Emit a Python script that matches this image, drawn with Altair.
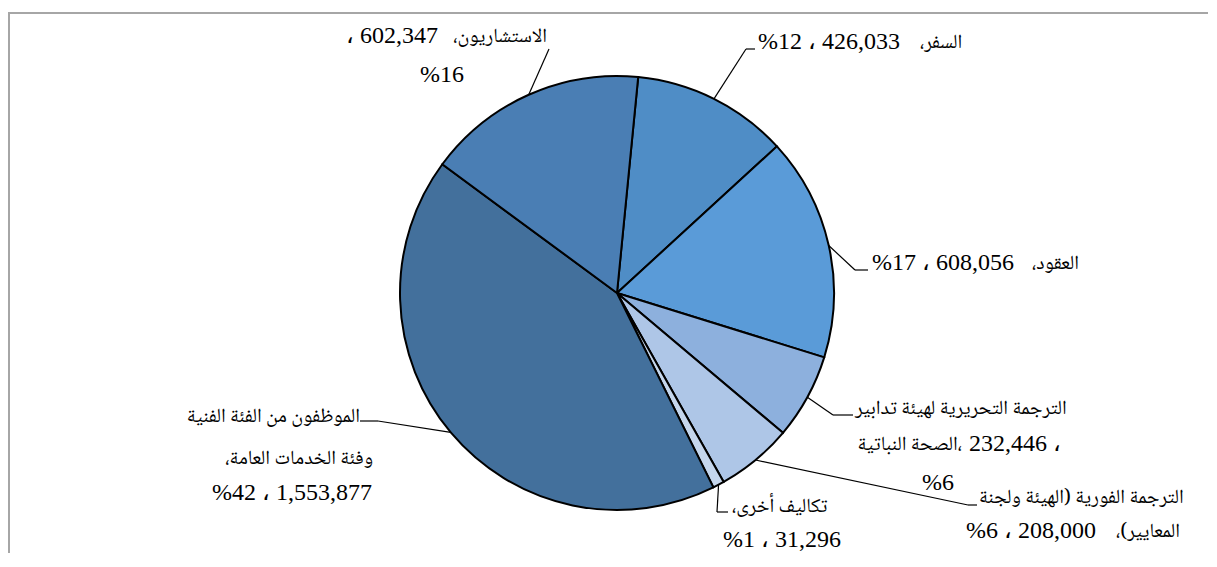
import math
import altair as alt
import pandas as pd

# ---- data ----
categories = [
    "السفر",
    "العقود",
    "الترجمة التحريرية لهيئة تدابير الصحة النباتية",
    "الترجمة الفورية (الهيئة ولجنة المعايير)",
    "تكاليف أخرى",
    "الموظفون من الفئة الفنية وفئة الخدمات العامة",
    "الاستشاريون",
]
values = [426033, 608056, 232446, 208000, 31296, 1553877, 602347]
colors = ["#4F8DC6", "#5A9BD8", "#8DB0DD", "#AEC6E7", "#C5D6EC", "#43709C", "#4A7EB4"]

RLE, PDF = "\u202B", "\u202C"

# label pieces: Arabic words and numbers are separate text pieces
label_text = [
    "، 602,347", RLE + "الاستشاريون،" + PDF, "%16",
    "%12 ،  426,033", RLE + "السفر،" + PDF,
    "%17 ،  608,056", RLE + "العقود،" + PDF,
    RLE + "الترجمة التحريرية لهيئة تدابير" + PDF, "الصحة النباتية،", "232,446 ،", "%6",
    RLE + "الترجمة الفورية (الهيئة ولجنة" + PDF, "%6 ،  208,000", RLE + "المعايير)،" + PDF,
    RLE + "تكاليف أخرى،" + PDF, "%1 ، 31,296",
    RLE + "الموظفون من الفئة الفنية" + PDF, RLE + "وفئة الخدمات العامة،" + PDF, "%42 ، 1,553,877",
]
label_kind = [
    "lat", "ar", "lat",
    "lat", "ar",
    "lat", "ar",
    "ar", "ar", "lat", "lat",
    "ar", "lat", "ar",
    "ar", "lat",
    "ar", "ar", "lat",
]

# ---- layout (pixels inside the plot area) ----
W, H = 1200, 545
CX, CY, R = 609, 285, 217
START = math.radians(5.6)

elbow_x = [738, 847, 825, 960, 709, 370, 541]
elbow_y = [41, 262, 407, 497, 504, 413, 41]
end_x = [747, 860, 845, 969, 720, 352, 541]
end_y = [41, 262, 407, 497, 504, 413, 41]

label_x = [430, 539, 434,
           750, 912,
           864, 1024,
           847, 954, 961, 930,
           971, 958, 1172,
           724, 774,
           352, 365, 364]
label_y = [28, 28, 67,
           34, 34,
           255, 255,
           400, 436, 436, 475,
           489, 523, 523,
           498, 532,
           408, 450, 485]
label_align = ["right", "right", "center",
               "left", "left",
               "left", "left",
               "left", "right", "left", "center",
               "left", "left", "right",
               "left", "center",
               "right", "right", "right"]

slices = pd.DataFrame({
    "category": categories,
    "value": values,
    "idx": list(range(len(values))),
    "ex": elbow_x, "ey": elbow_y, "lx": end_x, "ly": end_y,
})
labels = pd.DataFrame({"text": label_text, "x": label_x, "y": label_y,
                       "align": label_align, "kind": label_kind})

FONTS = {
    "lat": ("Liberation Serif, DejaVu Serif, serif", 24),
    "ar": ("Noto Naskh Arabic, DejaVu Sans, sans-serif", 20),
}

base = alt.Chart(slices)

pie = base.mark_arc(outerRadius=R, stroke="black", strokeWidth=2).encode(
    theta=alt.Theta("value:Q", stack=True,
                    scale=alt.Scale(range=[START, START + 2 * math.pi])),
    color=alt.Color("category:N", scale=alt.Scale(domain=categories, range=colors), legend=None),
    order=alt.Order("idx:Q"),
    x=alt.value(CX),
    y=alt.value(CY),
)

leaders = (
    base.transform_window(cum="sum(value)", sort=[alt.SortField("idx")], frame=[None, 0])
    .transform_joinaggregate(total="sum(value)")
    .transform_calculate(mid=f"{START} + 2*PI*(datum.cum - datum.value/2)/datum.total")
    .transform_calculate(x0=f"{CX} + {R}*sin(datum.mid)")
    .transform_calculate(y0=f"{CY} - {R}*cos(datum.mid)")
)
seg1 = leaders.mark_rule(color="black", strokeWidth=1.2).encode(
    x=alt.X("x0:Q", scale=None, axis=None),
    y=alt.Y("y0:Q", scale=None, axis=None),
    x2="ex:Q", y2="ey:Q",
)
seg2 = base.mark_rule(color="black", strokeWidth=1.2).encode(
    x=alt.X("ex:Q", scale=None, axis=None),
    y=alt.Y("ey:Q", scale=None, axis=None),
    x2="lx:Q", y2="ly:Q",
)

text_layers = []
for kind, (font, size) in FONTS.items():
    for al in ["left", "center", "right"]:
        text_layers.append(
            alt.Chart(labels)
            .transform_filter(f"datum.align == '{al}' && datum.kind == '{kind}'")
            .mark_text(align=al, baseline="middle", font=font, fontSize=size, color="black")
            .encode(
                x=alt.X("x:Q", scale=None, axis=None),
                y=alt.Y("y:Q", scale=None, axis=None),
                text="text:N",
            )
        )

frame_df = pd.DataFrame({"k": [0]})
frame_top = alt.Chart(frame_df).mark_rule(color="#A6A6A6", strokeWidth=2).encode(
    x=alt.value(0), x2=alt.value(W), y=alt.value(5)
)
frame_left = alt.Chart(frame_df).mark_rule(color="#A6A6A6", strokeWidth=2).encode(
    x=alt.value(1), y=alt.value(5), y2=alt.value(H)
)

chart = (
    alt.layer(frame_top, frame_left, pie, seg1, seg2, *text_layers)
    .properties(width=W, height=H, autosize=alt.AutoSizeParams(type="none"), padding=0,
                background="white")
    .configure_view(stroke=None)
)

chart.save("out.html", embed_options={"renderer": "svg", "actions": False})
